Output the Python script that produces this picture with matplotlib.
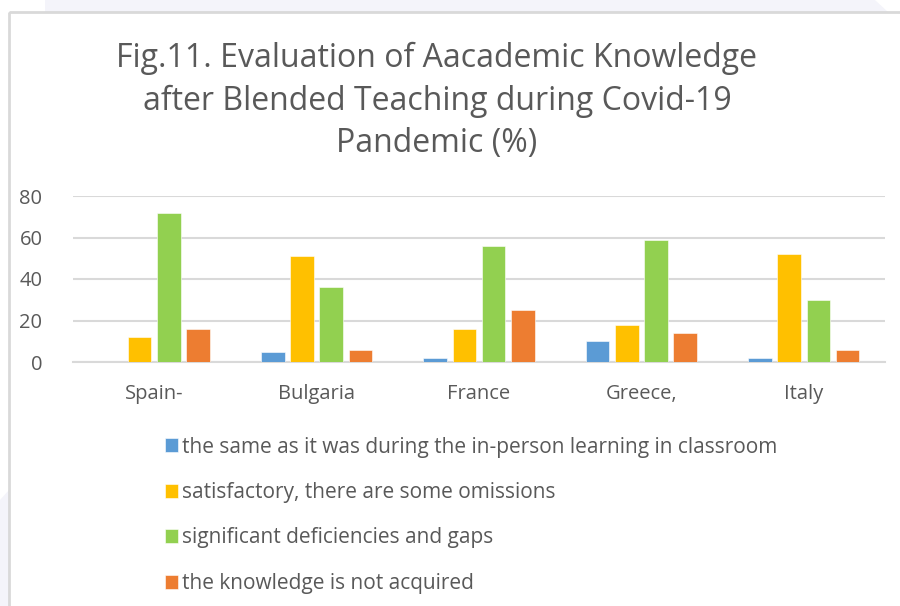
import numpy as np
import matplotlib.pyplot as plt
from matplotlib.patches import Polygon, Rectangle

plt.rcParams['font.family'] = ['Open Sans', 'DejaVu Sans']

##### DATA
countries = ['Spain-', 'Bulgaria', 'France', 'Greece,', 'Italy']
same_as_before = [0, 5, 2, 10, 2]
satisfactory = [12, 51, 16, 18, 52]
deficiencies = [72, 36, 56, 59, 30]
not_acquired = [16, 6, 25, 14, 6]

series_names = ['the same as it was during the in-person learning in classroom',
                'satisfactory, there are some omissions',
                'significant deficiencies and gaps',
                'the knowledge is not acquired']
colors = ['#5b9bd5', '#ffc000', '#92d050', '#ed7d31']
y_ticks = [0, 20, 40, 60, 80]

title = 'Fig.11. Evaluation of Aacademic Knowledge\nafter Blended Teaching during Covid-19\nPandemic (%)'
text_color = '#595959'

#### FIGURE
fig = plt.figure(figsize=(9, 6.06), dpi=100)
W, H = 900, 606

# faint background shapes outside the chart box
bg = fig.add_axes([0, 0, 1, 1], zorder=-5)
bg.set_xlim(0, W)
bg.set_ylim(H, 0)
bg.axis('off')
bg.add_patch(Polygon([[45, 0], [875, 0], [888, 12], [45, 12]],
                     closed=True, color='#f4f4fa', lw=0))
bg.add_patch(Polygon([[0, 500], [9, 490], [9, 606], [0, 606]],
                     closed=True, color='#f4f4fa', lw=0))
bg.add_patch(Rectangle((9, 12), 900, 620, fill=False, ec='#d9d9d9', lw=2))

# plot area
ax = fig.add_axes([73 / W, 1 - 362 / H, (885 - 73) / W, (362 - 196) / H])
x = np.arange(len(countries))
all_series = [same_as_before, satisfactory, deficiencies, not_acquired]
step = 0.18
for i, (vals, name, c) in enumerate(zip(all_series, series_names, colors)):
    ax.bar(x + (i - 1.5) * step, vals, width=0.145, color=c, label=name,
           edgecolor='white', linewidth=0.4, zorder=3)

ax.set_xlim(-0.5, len(countries) - 0.5)
ax.set_ylim(0, 80)
ax.set_yticks(y_ticks)
ax.set_xticks(x)
ax.set_xticklabels(countries)
ax.tick_params(axis='both', length=0, colors=text_color, labelsize=14.5)
ax.tick_params(axis='x', pad=16)
ax.tick_params(axis='y', pad=22)
ax.grid(axis='y', color='#d9d9d9', lw=1.5, zorder=0)
for s in ['top', 'right', 'left']:
    ax.spines[s].set_visible(False)
ax.spines['bottom'].set_color('#d9d9d9')
ax.spines['bottom'].set_linewidth(1.5)
ax.set_facecolor('none')

fig.text(437 / W, 1 - 101 / H, title, ha='center', va='center',
         fontsize=23, color=text_color, linespacing=1.37)

fig.legend(loc='upper left', bbox_to_anchor=(146 / W, 1 - 418 / H),
           frameon=False, fontsize=15, labelcolor=text_color,
           handlelength=0.65, handleheight=0.65, handletextpad=0.2,
           labelspacing=1.17)

plt.savefig('out.png', dpi=100)
